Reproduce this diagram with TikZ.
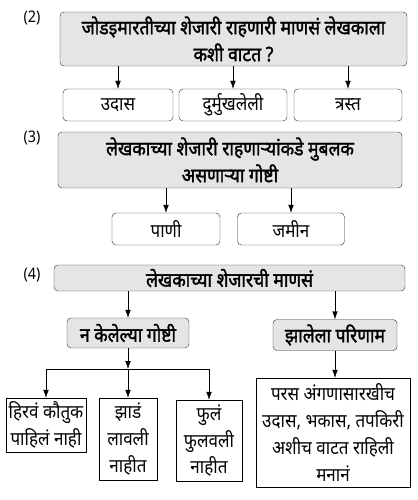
\documentclass[tikz,border=0pt]{standalone}
\usepackage{fontspec}
\usetikzlibrary{arrows.meta}
\newfontfamily\dev[Script=Devanagari,FakeStretch=0.9]{Noto Sans}
\newfontfamily\devb[Script=Devanagari,FakeStretch=0.88,FakeBold=1.6]{Noto Sans}
\begin{document}
\begin{tikzpicture}[x=1bp,y=-1bp,
		qbox/.style={draw=black!80,rounded corners=4bp,fill=black!10,inner sep=0pt,align=center,
			font=\devb\fontsize{20}{27}\selectfont},
		abox/.style={draw=black!85,rounded corners=4bp,fill=white,inner sep=0pt,align=center,
			font=\dev\fontsize{19}{27}\selectfont},
		sbox/.style={draw=black,inner sep=0pt,align=center,
			font=\dev\fontsize{19}{27}\selectfont},
		num/.style={font=\dev\fontsize{16}{16}\selectfont},
		arr/.style={-{Latex[length=8bp,width=5.5bp]},black}]
	\useasboundingbox (0,0) rectangle (417,500);
	% (2)
	\node[num] (n2) at (32,18) {(2)};
	\node[qbox,minimum width=347bp,minimum height=54bp] (q2) at (233.5,39)
		{जोडइमारतीच्या शेजारी राहणारी माणसं लेखकाला\\कशी वाटत ?};
	\node[abox,minimum width=110bp,minimum height=32bp] (udas) at (118,105) {उदास};
	\node[abox,minimum width=108bp,minimum height=32bp] (durmukh) at (233,105) {दुर्मुखलेली};
	\node[abox,minimum width=108bp,minimum height=32bp] (trast) at (348,105) {त्रस्त};
	\foreach \b in {udas,durmukh,trast}
		\draw[arr] (q2.south -| \b.north) -- (\b.north);
	% (3)
	\node[num] (n3) at (32,138) {(3)};
	\node[qbox,minimum width=344bp,minimum height=56bp] (q3) at (230,160)
		{लेखकाच्या शेजारी राहणाऱ्यांकडे मुबलक\\असणाऱ्या गोष्टी};
	\node[abox,minimum width=108bp,minimum height=32bp] (pani) at (166,229) {पाणी};
	\node[abox,minimum width=107bp,minimum height=32bp] (jamin) at (291,229) {जमीन};
	\foreach \b in {pani,jamin}
		\draw[arr] (q3.south -| \b.north) -- (\b.north);
	% (4)
	\node[num] (n4) at (32,275) {(4)};
	\node[qbox,minimum width=351bp,minimum height=26bp] (q4) at (229.5,278) {लेखकाच्या शेजारची माणसं};
	\node[qbox,minimum width=122bp,minimum height=30bp] (nakele) at (128,333) {न केलेल्या गोष्टी};
	\node[qbox,minimum width=124bp,minimum height=31bp] (zale) at (335,335) {झालेला परिणाम};
	\draw[arr] (q4.south -| nakele.north) -- (nakele.north);
	\draw[arr] (q4.south -| zale.north) -- (zale.north);
	\node[sbox,minimum width=80bp,minimum height=54bp] (hirva) at (46,425) {हिरवं कौतुक\\पाहिलं नाही};
	\node[sbox,minimum width=58bp,minimum height=82bp] (jhaad) at (128,439) {झाडं\\लावली\\नाहीत};
	\node[sbox,minimum width=66bp,minimum height=81bp] (phula) at (209,440.5) {फुलं\\फुलवली\\नाहीत};
	\node[sbox,minimum width=154bp,minimum height=109bp] (paras) at (333,432.5)
		{परस अंगणासारखीच\\उदास, भकास, तपकिरी\\अशीच वाटत राहिली\\मनानं};
	\coordinate (j) at (128,369);
	\draw[arr] (nakele.south) -- (j);
	\draw (hirva.north |- j) -- (phula.north |- j);
	\foreach \b in {hirva,jhaad,phula}
		\draw[arr] (\b.north |- j) -- (\b.north);
	\draw[arr] (zale.south) -- (paras.north -| zale.south);
\end{tikzpicture}
\end{document}
